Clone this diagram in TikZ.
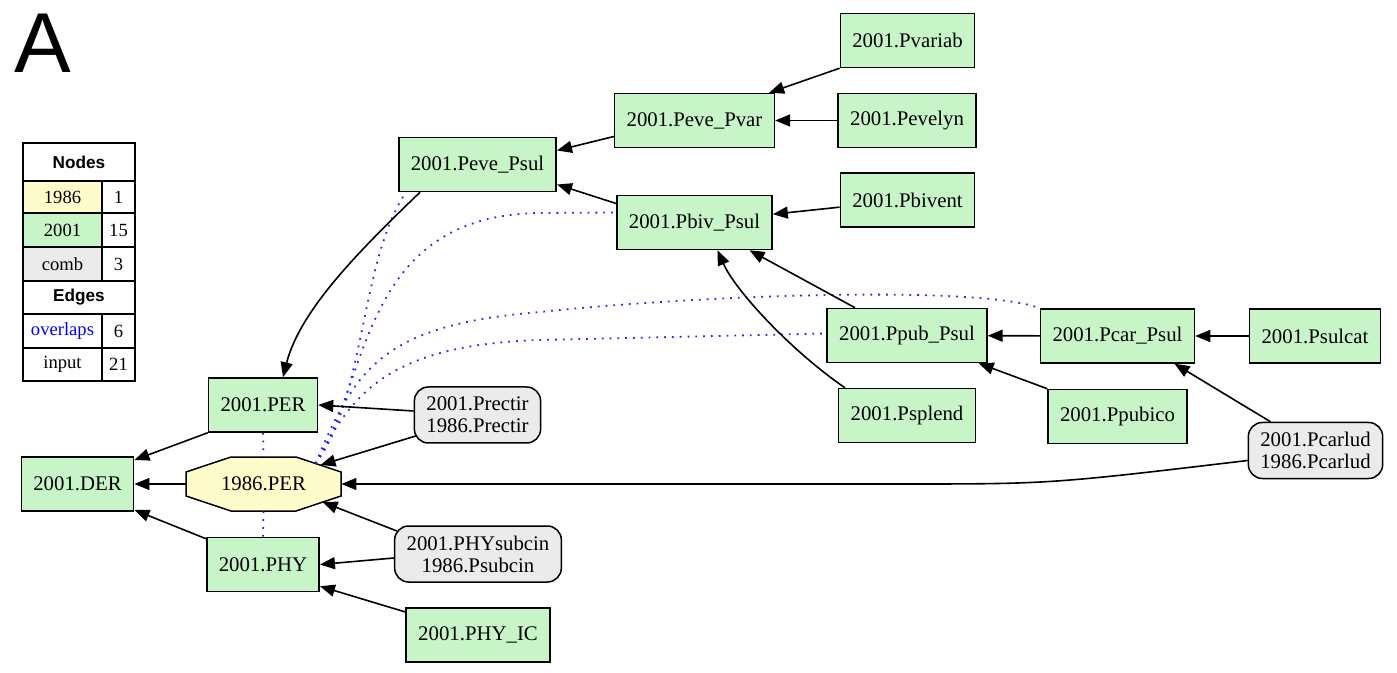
\documentclass[tikz,border=0pt]{standalone}
\usepackage{fontspec}
\setmainfont{Liberation Serif}
\newfontfamily\helv{Liberation Sans}
\usetikzlibrary{arrows.meta}
\definecolor{gfill}{RGB}{200,245,200}
\definecolor{yfill}{RGB}{255,252,204}
\definecolor{cfill}{RGB}{235,235,235}
\definecolor{ovl}{RGB}{40,40,245}
\begin{document}
\begin{tikzpicture}[x=0.5pt,y=-0.5pt,
  gnode/.style={draw, line width=0.75pt, fill=gfill, minimum height=27pt, inner xsep=6pt, inner ysep=0pt, font=\fontsize{10.4}{12.5}\selectfont},
  cnode/.style={draw, line width=0.75pt, fill=cfill, rounded corners=7pt, minimum height=28pt, inner xsep=6pt, inner ysep=0pt, align=center, font=\fontsize{10.4}{11}\selectfont},
  onode/.style={draw=none, minimum width=77.5pt, minimum height=27pt, inner sep=0pt, font=\fontsize{10.4}{12.5}\selectfont},
  inedge/.style={line width=0.8pt, -{Triangle[length=7.5pt,width=6pt]}},
  overlap/.style={draw=ovl, line width=0.9pt, dash pattern=on 0.9pt off 3pt},
  legcell/.style={draw, line width=0.75pt, inner sep=0pt, minimum width=39.5pt, font=\fontsize{9.3}{11}\selectfont},
  legnum/.style={draw, line width=0.75pt, inner sep=0pt, minimum width=16.5pt, font=\fontsize{9.3}{11}\selectfont},
  leghead/.style={draw, line width=0.75pt, inner sep=0pt, minimum width=56pt, font=\helv\bfseries\fontsize{8.6}{10}\selectfont},
]
\fill[white] (0,0) rectangle (1397,673);
\useasboundingbox (0,0) rectangle (1397,673);

% panel letter
\node[inner sep=0pt, anchor=base west, font=\helv\fontsize{42.5}{50}\selectfont] (lblA) at (14,73) {A};

% legend
\node[leghead, minimum height=19pt] (lnodes) at (79,162) {Nodes};
\node[legcell, minimum height=16pt, fill=yfill] (l1986) at (62.5,197) {1986};
\node[legnum, minimum height=16pt] (n1986) at (118.5,197) {1};
\node[legcell, minimum height=17pt, fill=gfill] (l2001) at (62.5,230) {2001};
\node[legnum, minimum height=17pt] (n2001) at (118.5,230) {15};
\node[legcell, minimum height=17pt, fill=cfill] (lcomb) at (62.5,264) {comb};
\node[legnum, minimum height=17pt] (ncomb) at (118.5,264) {3};
\node[leghead, minimum height=16.5pt] (ledges) at (79,297.5) {Edges};
\node[legcell, minimum height=17pt, text=blue] (lovl) at (62.5,331) {overlaps};
\node[legnum, minimum height=17pt] (novl) at (118.5,331) {6};
\node[legcell, minimum height=16.5pt] (linput) at (62.5,364.5) {input};
\node[legnum, minimum height=16.5pt] (ninput) at (118.5,364.5) {21};

% octagon 1986.PER
\coordinate (per86c) at (263.5,484);
\draw[line width=0.75pt, fill=yfill]
  ([shift={(-32.5,-27)}]per86c) -- ([shift={(32.5,-27)}]per86c) -- ([shift={(77.5,-12)}]per86c) --
  ([shift={(77.5,12)}]per86c) -- ([shift={(32.5,27)}]per86c) -- ([shift={(-32.5,27)}]per86c) --
  ([shift={(-77.5,12)}]per86c) -- ([shift={(-77.5,-12)}]per86c) -- cycle;
\node[onode] (per86) at (per86c) {1986.PER};
\coordinate (opr) at ([shift={(57,-19)}]per86c);
\coordinate (ophy) at ([shift={(59,18)}]per86c);
\coordinate (ost) at ([shift={(52,-20.5)}]per86c);

% green nodes
\node[gnode] (der) at (77.5,484) {2001.DER};
\node[gnode] (per01) at (263,405) {2001.PER};
\node[gnode] (phy) at (263,564.5) {2001.PHY};
\node[gnode] (phyic) at (478,635) {2001.PHY\_IC};
\node[gnode] (peveps) at (477.5,164.5) {2001.Peve\_Psul};
\node[gnode] (pevepv) at (694.5,120.5) {2001.Peve\_Pvar};
\node[gnode] (pbivps) at (694.5,222.5) {2001.Pbiv\_Psul};
\node[gnode] (pvariab) at (907.5,40.5) {2001.Pvariab};
\node[gnode] (pevelyn) at (907,120.5) {2001.Pevelyn};
\node[gnode] (pbivent) at (907.5,200) {2001.Pbivent};
\node[gnode] (ppubps) at (907,335.5) {2001.Ppub\_Psul};
\node[gnode] (pcarps) at (1117.5,336) {2001.Pcar\_Psul};
\node[gnode] (psulcat) at (1315,336) {2001.Psulcat};
\node[gnode] (psplend) at (907,415.5) {2001.Psplend};
\node[gnode] (ppubico) at (1117.5,416.5) {2001.Ppubico};

% combined nodes
\node[cnode] (prectir) at (477.5,415) {2001.Prectir\\1986.Prectir};
\node[cnode] (physub) at (478,554) {2001.PHYsubcin\\1986.Psubcin};
\node[cnode] (pcarlud) at (1315.5,450.5) {2001.Pcarlud\\1986.Pcarlud};

% overlap edges
\draw[overlap] (per01.south) -- (per86.north);
\draw[overlap] (per86.south) -- (phy.north);
\draw[overlap] (ost) .. controls (365,400) and (360,260) .. ([shift={(8,0)}]peveps.south west);
\draw[overlap] (ost) .. controls (370,380) and (360,215) .. (540,213) -- ([shift={(0,-10)}]pbivps.west);
\draw[overlap] (ost) .. controls (355,370) and (380,325) .. (540,312) .. controls (700,295) and (980,285) .. (pcarps.north west);
\draw[overlap] (ost) .. controls (350,400) and (380,345) .. (540,340) -- ([shift={(0,-2)}]ppubps.west);

% input edges
\draw[inedge] (pvariab.south west) -- ([shift={(-6,0)}]pevepv.north east);
\draw[inedge] (pevelyn) -- (pevepv);
\draw[inedge] ([shift={(0,16)}]pevepv.west) -- ([shift={(0,-14)}]peveps.east);
\draw[inedge] ([shift={(0,-19)}]pbivps.west) -- ([shift={(0,20)}]peveps.east);
\draw[inedge] (pbivent) -- (pbivps);
\draw[inedge] ([shift={(7,0)}]psplend.north west) .. controls (790,350) and (735,290) .. ([shift={(23,0)}]pbivps.south);
\draw[inedge] ([shift={(-52,0)}]ppubps.north) -- ([shift={(55,0)}]pbivps.south);
\draw[inedge] (pcarps) -- (ppubps);
\draw[inedge] (psulcat) -- (pcarps);
\draw[inedge] (ppubico.north west) -- ([shift={(-9,0)}]ppubps.south east);
\draw[inedge] ([shift={(-45,0)}]pcarlud.north) -- ([shift={(57,0)}]pcarps.south);
\draw[inedge] ([shift={(0,10)}]pcarlud.west) .. controls (1050,484) .. (900,484) -- (per86.east);
\draw[inedge] ([shift={(22,0)}]peveps.south west) .. controls (360,250) and (300,310) .. ([shift={(20,0)}]per01.north);
\draw[inedge] ([shift={(0,-4)}]prectir.west) -- (per01.east);
\draw[inedge] ([shift={(2,21)}]prectir.west) -- (opr);
\draw[inedge] (per01.south west) -- ([shift={(0,-24)}]der.east);
\draw[inedge] (per86.west) -- (der.east);
\draw[inedge] ([shift={(0,2)}]phy.north west) -- ([shift={(0,26)}]der.east);
\draw[inedge] ([shift={(3,-23)}]physub.west) -- (ophy);
\draw[inedge] ([shift={(0,4)}]physub.west) -- (phy.east);
\draw[inedge] ([shift={(0,-23)}]phyic.west) -- ([shift={(0,-6)}]phy.south east);
\end{tikzpicture}
\end{document}
